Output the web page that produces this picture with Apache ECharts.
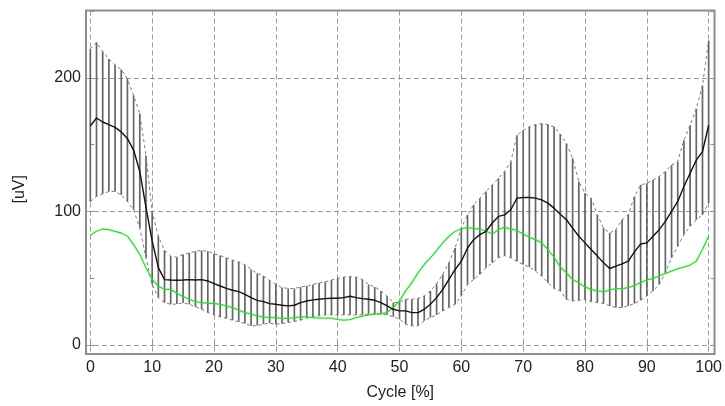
<!DOCTYPE html>
<html>
<head>
<meta charset="utf-8">
<script src="https://cdn.jsdelivr.net/npm/echarts@6/dist/echarts.min.js"></script>
<style>
html,body{margin:0;padding:0;background:#fff;}
#chart{width:725px;height:406px;}
</style>
</head>
<body>
<div id="chart"></div>
<script>
// Cycle percentage 0..100
var cycle = [];
for (var k = 0; k <= 100; k++) cycle.push(k);

// Mean EMG envelope (black)
var meanValues = [164,170,167,165,163,159.6,154.6,146,130,103,
  78,58,49,48.7,48.5,48.7,49,48.7,49,48,
  46,44.2,42.4,41,40,38,35.5,33.5,32.5,31,
  30.5,29.8,29.3,29.8,31.8,33,33.8,34.3,34.8,35,
  35,35.5,36.5,35.5,34.8,34.3,33.5,31.8,29.3,26.8,
  25.6,25.6,24.3,24.3,26.8,30.5,35.5,41.7,49.1,56.6,
  62.8,72.7,78.9,82.7,85.2,91.4,96.3,97.5,101.3,110,
  110.5,110.5,110,108.7,106.3,102.5,98,93.8,87.6,81.5,
  76.5,71.5,66.6,61.6,57.3,59.1,60.8,62.8,69.8,75.7,
  76.5,81.5,86.4,92.6,100.1,107.5,118.7,128.6,138.5,144.8,
  164.6];

// Mean + SD (upper dashed bound)
var upperValues = [221.7,226.6,219.7,214.2,209.8,206.3,199.3,186.9,173.3,142,
  100,81.5,70.8,66.5,65.8,67.8,69,70.3,70.8,70.3,
  68.3,67,65.3,63.6,62.3,60,56.6,53.6,51.7,48.4,
  45.4,43,42.4,42.4,43.5,44.2,45.4,46.5,47.4,48.7,
  49.9,50.9,51.2,50.9,49.1,45.4,43.5,40.5,36.8,31.8,
  32,34.3,34.3,35,36.8,40.5,45.9,52.9,61.6,72.7,
  87.6,97.5,105,110,115,119.9,124.9,129.9,137.3,157.1,
  160.8,163.4,165.1,165.8,165.1,163.4,158,150.9,139.8,122.4,
  113.7,110,97.5,87.6,83.9,86.4,93.8,97.5,111.2,119.9,
  121.1,123.6,126.1,129.9,134.8,137.3,153.4,164.6,177,194.3,
  227.9];

// Mean - SD (lower dashed bound)
var lowerValues = [107.5,111.2,113.2,115,115,112.4,107.5,101.3,87.6,65.3,
  45.4,35.5,31.8,30.5,30.7,31.6,30.5,28.6,26.8,24.3,
  22.6,21.1,20.1,18.6,17.4,16.2,14.4,14.6,15.6,16.4,
  15.6,16.1,16.9,17.6,18.6,20.1,21.1,21.9,22.6,22.6,
  22.6,22.6,22.6,22.6,22.6,23.1,23.1,23.1,22.6,21.1,
  19.4,15.6,14.4,14.5,18.2,20.6,22.6,25.6,28.1,30.5,
  36.8,45.4,49.1,52.9,57.9,61.6,65.3,67,65.3,62.8,
  60.3,58.4,55.4,51.7,46.7,42.4,40.5,34.3,33,33.5,
  34.3,32.5,31.8,31.1,29.3,28.1,28.1,29.3,31.1,33.5,
  36.8,40.5,45.4,54.1,65.3,74,82.7,88.9,93.8,97.5,
  106.3];

// Reference curve (green)
var refValues = [82.2,85.2,86.9,86.4,85.2,83.9,81.5,75.2,67.8,57.9,
  49.1,44.2,41.7,41.7,38.7,36.3,34.3,32.5,31.8,31.3,
  31.1,30.5,29.3,28.1,26.1,24.3,23.1,21.9,21.1,20.6,
  20.6,19.9,19.9,20.6,21.1,21.1,20.6,20.1,20.1,20.1,
  19.1,18.6,19.1,20.6,21.6,22.6,23.1,23.6,24.3,28.1,
  33,40.5,46.7,54.1,60.3,65.3,70.7,76.5,81.5,85.2,
  86.9,88.2,87.1,86.9,85.2,83.2,86.4,88.2,86.9,85.6,
  83.2,80.7,78.9,76.5,71.5,65.8,58.4,54.1,49.1,46.7,
  43.5,41.7,40.5,39.8,41.3,42.2,42.2,43,44.7,46.7,
  48.7,49.9,51.7,53.6,55.4,57.3,58.4,59.9,62.8,71.5,
  81.5];

var xTickLabels = ['0','10','20','30','40','50','60','70','80','90','100'];
var yTickLabels = ['0','100','200'];

function zip(a, b) { return a.map(function (v, i) { return [v, b[i]]; }); }
var barData = cycle.map(function (c, i) { return [c, lowerValues[i], upperValues[i]]; });

var FONT = '"Liberation Sans", Arial, sans-serif';
var gridLine = { show: true, lineStyle: { color: '#9a9a9a', type: [5, 3], width: 1 } };

var chart = echarts.init(document.getElementById('chart'));
chart.setOption({
  animation: false,
  backgroundColor: '#ffffff',
  grid: { left: 86, right: 7.5, top: 10.5, bottom: 49, show: true, borderColor: '#8e8e8e', borderWidth: 2, backgroundColor: 'transparent', z: 10 },
  xAxis: {
    type: 'value', min: -0.7, max: 100.95, splitNumber: 10,
    name: 'Cycle [%]', nameLocation: 'middle', nameGap: 31,
    nameTextStyle: { fontFamily: FONT, fontSize: 16, color: '#222' },
    axisLine: { show: false },
    axisTick: { show: true, inside: true, length: 4, lineStyle: { color: '#8e8e8e' } },
    axisLabel: { fontFamily: FONT, fontSize: 16, color: '#222', margin: 6,
      showMinLabel: false, showMaxLabel: false,
      formatter: function (v) { var s = String(Math.round(v)); return (Math.abs(v - Math.round(v)) < 1e-6 && xTickLabels.indexOf(s) >= 0) ? s : ''; } },
    splitLine: gridLine
  },
  yAxis: [{
    type: 'value', min: -6.7, max: 250.5, splitNumber: 3,
    name: '[uV]', nameLocation: 'middle', nameGap: 58, nameRotate: 90,
    nameTextStyle: { fontFamily: FONT, fontSize: 16, color: '#222', padding: [0, 14, 0, 0] },
    axisLine: { show: false },
    axisTick: { show: true, inside: true, length: 4, lineStyle: { color: '#8e8e8e' } },
    minorTick: { show: true, splitNumber: 2, length: 4, lineStyle: { color: '#8e8e8e' } },
    axisLabel: { fontFamily: FONT, fontSize: 16, color: '#222', margin: 5,
      showMinLabel: false, showMaxLabel: false,
      formatter: function (v) { var s = String(Math.round(v)); return (Math.abs(v - Math.round(v)) < 1e-6 && yTickLabels.indexOf(s) >= 0) ? s : ''; } },
    splitLine: gridLine
  }, {
    type: 'value', min: -6.7, max: 250.5, splitNumber: 3, position: 'right',
    axisLine: { show: false },
    axisTick: { show: true, inside: true, length: 4, lineStyle: { color: '#8e8e8e' } },
    minorTick: { show: true, splitNumber: 2, length: 4, lineStyle: { color: '#8e8e8e' } },
    axisLabel: { show: false },
    splitLine: { show: false }
  }],
  series: [
    {
      type: 'custom', name: 'sd', data: barData, encode: { x: 0, y: [1, 2] }, z: 2,
      renderItem: function (params, api) {
        var p1 = api.coord([api.value(0), api.value(1)]);
        var p2 = api.coord([api.value(0), api.value(2)]);
        return { type: 'line', shape: { x1: p1[0], y1: p1[1], x2: p2[0], y2: p2[1] },
          style: { stroke: '#666666', lineWidth: 1.7 } };
      }
    },
    { type: 'line', name: 'upper', data: zip(cycle, upperValues), showSymbol: false, z: 3,
      lineStyle: { color: '#7a7a7a', width: 1, type: [3, 3] } },
    { type: 'line', name: 'lower', data: zip(cycle, lowerValues), showSymbol: false, z: 3,
      lineStyle: { color: '#7a7a7a', width: 1, type: [3, 3] } },
    { type: 'line', name: 'ref', data: zip(cycle, refValues), showSymbol: false, z: 4,
      lineStyle: { color: '#11ee11', width: 1.3 } },
    { type: 'line', name: 'mean', data: zip(cycle, meanValues), showSymbol: false, z: 5,
      lineStyle: { color: '#111111', width: 1.4 } }
  ]
});
</script>
</body>
</html>
